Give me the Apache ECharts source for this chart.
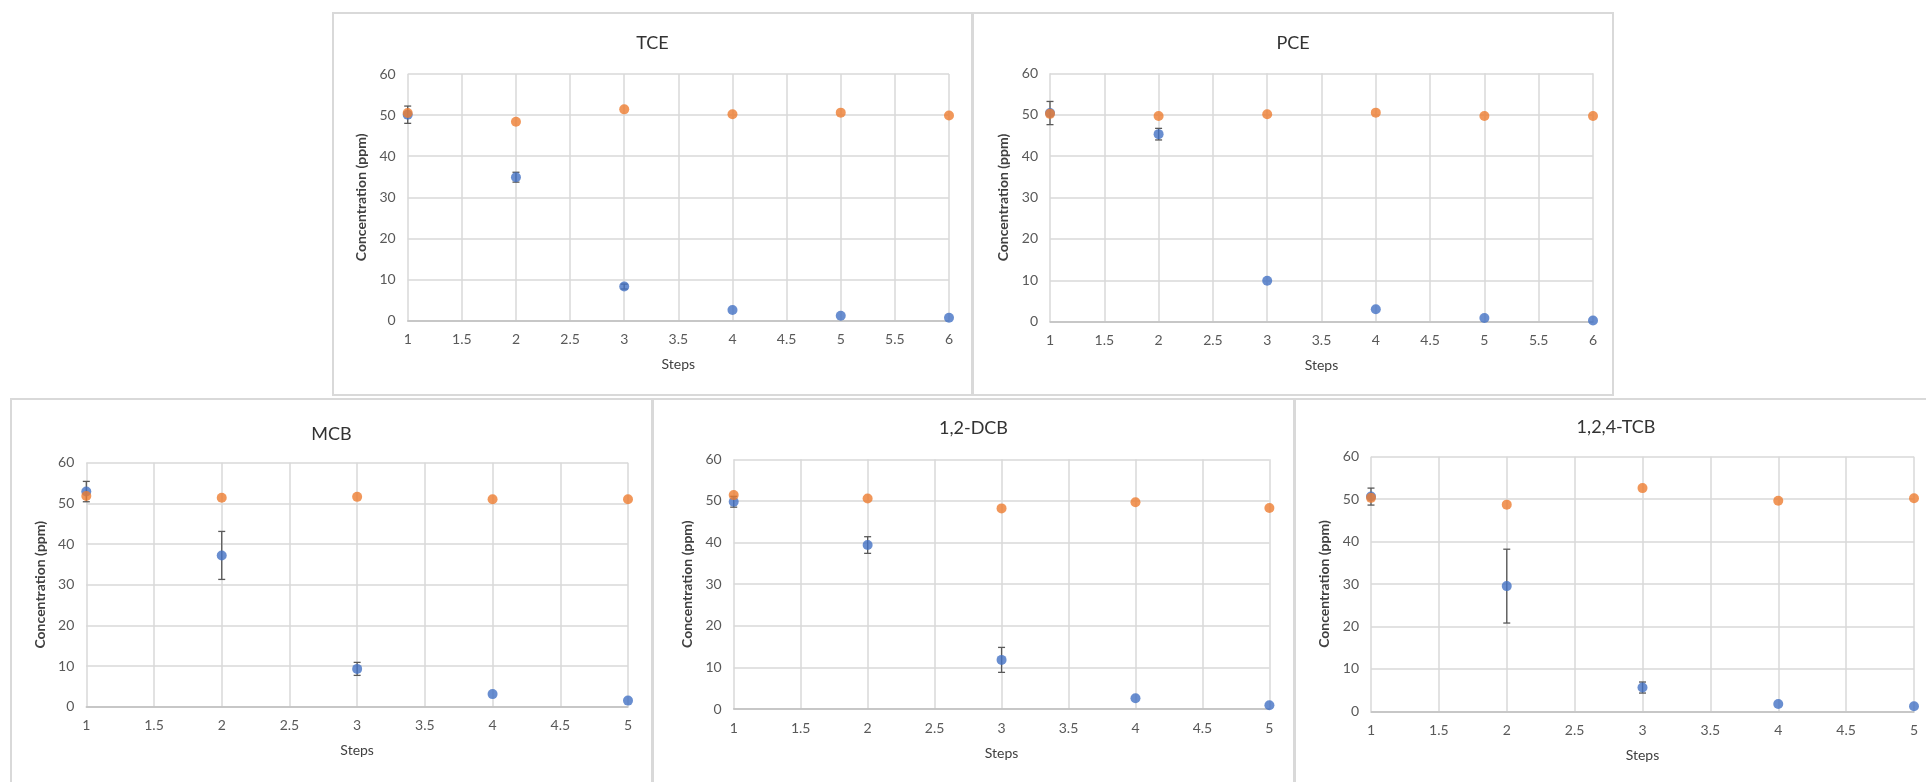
<!DOCTYPE html>
<html>
<head>
<meta charset="utf-8">
<script src="https://cdn.jsdelivr.net/npm/echarts@6/dist/echarts.min.js"></script>
<style>
    html, body { margin: 0; padding: 0; background: #fff; overflow: hidden; }
    body { width: 1926px; height: 782px; position: relative; }
    .panel { position: absolute; box-sizing: border-box; border: 2px solid #d9d9d9; background: #fff; }
</style>
</head>
<body>
<div id="tce" class="panel"></div>
<div id="pce" class="panel"></div>
<div id="mcb" class="panel"></div>
<div id="dcb" class="panel"></div>
<div id="tcb" class="panel"></div>
<script>
// data
var steps6 = [1, 2, 3, 4, 5, 6];
var steps5 = [1, 2, 3, 4, 5];

var tceBlue = [50.1, 34.9, 8.3, 2.6, 1.2, 0.7];
var tceBlueErr = [2.1, 1.2, 0.6, 0, 0, 0];
var tceOrange = [50.5, 48.4, 51.4, 50.2, 50.6, 49.9];

var pceBlue = [50.4, 45.3, 9.9, 3.0, 0.9, 0.3];
var pceBlueErr = [2.8, 1.4, 0, 0, 0, 0];
var pceOrange = [50.2, 49.7, 50.1, 50.5, 49.7, 49.7];

var mcbBlue = [52.9, 37.2, 9.3, 3.1, 1.5];
var mcbBlueErr = [2.5, 5.9, 1.6, 0, 0];
var mcbOrange = [51.8, 51.4, 51.6, 51.0, 51.0];

var dcbBlue = [49.8, 39.4, 11.8, 2.6, 0.9];
var dcbBlueErr = [1.3, 2.0, 3.0, 0, 0];
var dcbOrange = [51.4, 50.6, 48.2, 49.7, 48.3];

var tcbBlue = [50.6, 29.5, 5.6, 1.7, 1.2];
var tcbBlueErr = [2.0, 8.7, 1.3, 0, 0];
var tcbOrange = [50.3, 48.7, 52.6, 49.6, 50.2];

var yTicks = [0, 10, 20, 30, 40, 50, 60];

var FONT = 'Lato, "Open Sans", sans-serif';
var BLUE = '#4472C4';
var ORANGE = '#ED7D31';

// panel box, plot box and title centre, page pixels
var panels = [
    {id: 'tce', title: 'TCE', steps: steps6, blue: tceBlue, err: tceBlueErr, orange: tceOrange,
        box: [332, 12, 641, 384], plot: [407.7, 74, 949, 320.7], titleY: 40.7},
    {id: 'pce', title: 'PCE', steps: steps6, blue: pceBlue, err: pceBlueErr, orange: pceOrange,
        box: [972, 12, 642, 384], plot: [1050, 73.3, 1593, 321.7], titleY: 40},
    {id: 'mcb', title: 'MCB', steps: steps5, blue: mcbBlue, err: mcbBlueErr, orange: mcbOrange,
        box: [10, 398, 643, 392], plot: [86.3, 462.7, 628, 706.7], titleY: 431.7},
    {id: 'dcb', title: '1,2-DCB', steps: steps5, blue: dcbBlue, err: dcbBlueErr, orange: dcbOrange,
        box: [652, 398, 643, 392], plot: [733.7, 459.3, 1269.4, 709], titleY: 425},
    {id: 'tcb', title: '1,2,4-TCB', steps: steps5, blue: tcbBlue, err: tcbBlueErr, orange: tcbOrange,
        box: [1294, 398, 644, 392], plot: [1371, 456.7, 1914, 711.3], titleY: 424.3}
];

panels.forEach(function (p) {
    var el = document.getElementById(p.id);
    el.style.left = p.box[0] + 'px';
    el.style.top = p.box[1] + 'px';
    el.style.width = p.box[2] + 'px';
    el.style.height = p.box[3] + 'px';
    drawPanel(el, p);
});

function drawPanel(el, p) {
    var chart = echarts.init(el);
    var ox = p.box[0] + 2, oy = p.box[1] + 2;
    var innerW = p.box[2] - 4, innerH = p.box[3] - 4;
    var titleSize = 18;

    var blueData = p.steps.map(function (s, i) { return [s, p.blue[i]]; });
    var orangeData = p.steps.map(function (s, i) { return [s, p.orange[i]]; });
    var errData = p.steps.map(function (s, i) {
        return [s, p.blue[i] - p.err[i], p.blue[i] + p.err[i]];
    }).filter(function (d, i) { return p.err[i] > 0; });

    var option = {
        animation: false,
        title: {
            text: p.title,
            left: 'center',
            top: p.titleY - oy - titleSize * 0.62,
            textStyle: {fontFamily: FONT, fontSize: titleSize, fontWeight: 'normal', color: '#333'}
        },
        grid: {
            left: p.plot[0] - ox,
            top: p.plot[1] - oy,
            right: innerW - (p.plot[2] - ox),
            bottom: innerH - (p.plot[3] - oy)
        },
        xAxis: {
            type: 'value',
            min: p.steps[0],
            max: p.steps[p.steps.length - 1],
            interval: 0.5,
            name: 'Steps',
            nameLocation: 'middle',
            nameGap: 37,
            nameTextStyle: {fontFamily: FONT, fontSize: 14, color: '#404040'},
            axisLine: {show: true, onZero: false, lineStyle: {color: '#bfbfbf', width: 1.5}},
            axisTick: {show: false},
            axisLabel: {fontFamily: FONT, fontSize: 14, color: '#595959', margin: 12},
            splitLine: {show: true, lineStyle: {color: '#d9d9d9', width: 1.5}}
        },
        yAxis: {
            type: 'value',
            min: yTicks[0],
            max: yTicks[yTicks.length - 1],
            interval: 10,
            name: 'Concentration (ppm)',
            nameLocation: 'middle',
            nameGap: 36,
            nameTextStyle: {fontFamily: FONT, fontSize: 14, color: '#404040', fontWeight: 'bold'},
            axisLine: {show: false},
            axisTick: {show: false},
            axisLabel: {fontFamily: FONT, fontSize: 14, color: '#595959', margin: 12},
            splitLine: {show: true, lineStyle: {color: '#d9d9d9', width: 1.5}}
        },
        series: [
            {
                type: 'custom',
                clip: false,
                z: 1,
                data: errData,
                renderItem: function (params, api) {
                    var x = api.value(0);
                    var lo = api.coord([x, api.value(1)]);
                    var hi = api.coord([x, api.value(2)]);
                    var cap = 3.5;
                    var style = {stroke: '#595959', lineWidth: 1.3};
                    return {
                        type: 'group',
                        children: [
                            {type: 'line', shape: {x1: lo[0], y1: lo[1], x2: hi[0], y2: hi[1]}, style: style},
                            {type: 'line', shape: {x1: lo[0] - cap, y1: lo[1], x2: lo[0] + cap, y2: lo[1]}, style: style},
                            {type: 'line', shape: {x1: hi[0] - cap, y1: hi[1], x2: hi[0] + cap, y2: hi[1]}, style: style}
                        ]
                    };
                }
            },
            {
                type: 'scatter',
                z: 2,
                symbolSize: 10,
                clip: false,
                itemStyle: {color: BLUE},
                data: blueData
            },
            {
                type: 'scatter',
                z: 3,
                symbolSize: 10,
                clip: false,
                itemStyle: {color: ORANGE},
                data: orangeData
            }
        ]
    };

    option && chart.setOption(option);
}
</script>
</body>
</html>
